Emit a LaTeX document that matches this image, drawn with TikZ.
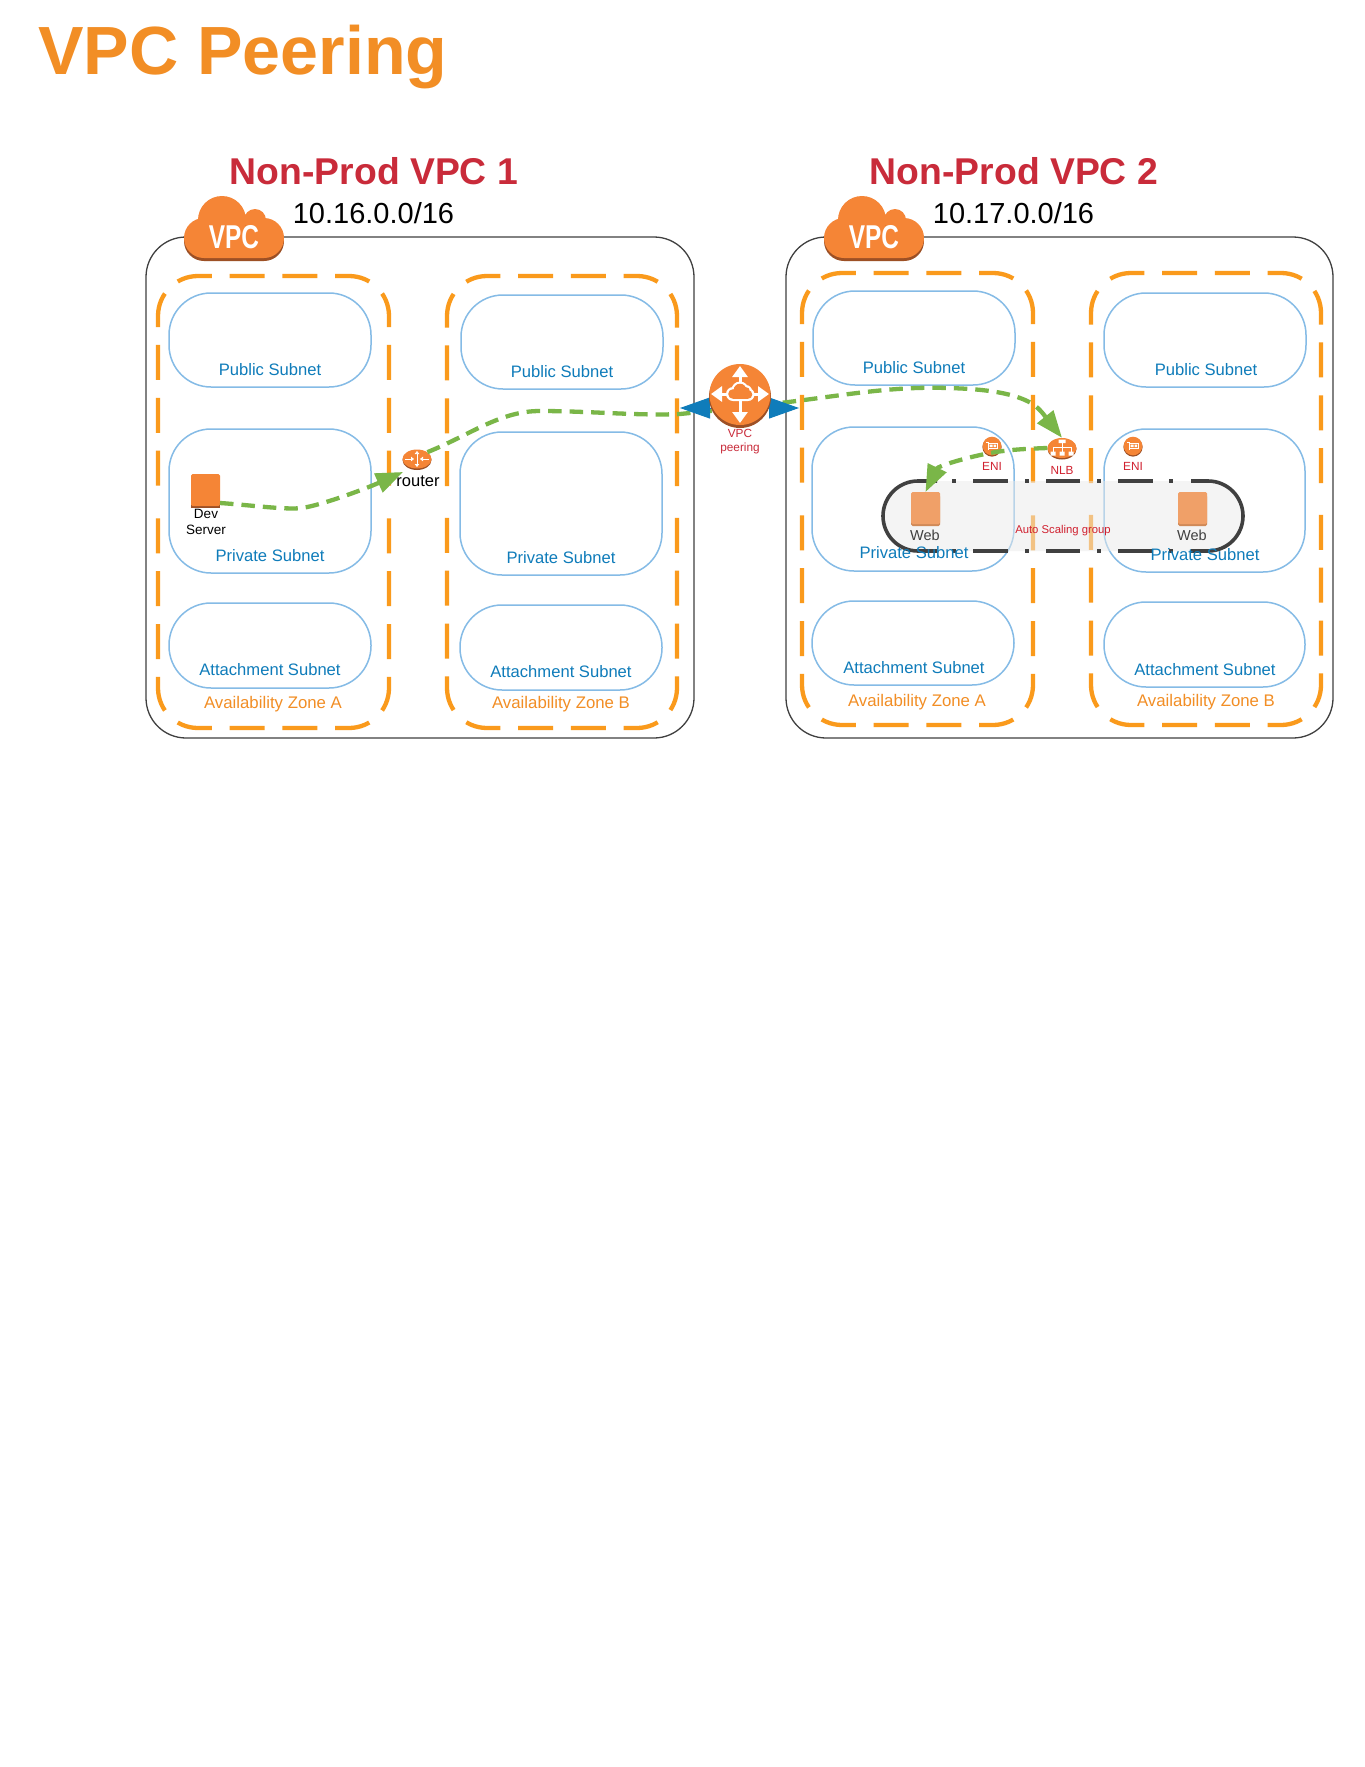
\documentclass[tikz,border=0pt]{standalone}
\usepackage{fontspec}
\usepackage{graphicx}
\setmainfont{Liberation Sans}
\usetikzlibrary{arrows.meta,shapes.geometric}
\definecolor{awsorange}{HTML}{F58536}
\definecolor{awsrim}{HTML}{9D5025}
\definecolor{titleorange}{HTML}{F28E25}
\definecolor{azorange}{HTML}{FA9A1C}
\definecolor{vpcred}{HTML}{C92B3A}
\definecolor{labred}{HTML}{D0202F}
\definecolor{subblue}{HTML}{0F7CBA}
\definecolor{subline}{HTML}{85BBE6}
\definecolor{greenflow}{HTML}{7AB648}
\definecolor{dark}{HTML}{404040}
\definecolor{webfill}{HTML}{F0A068}
\definecolor{webrim}{HTML}{D08A58}
\newcommand\fsz[1]{\fontsize{#1}{#1}\selectfont}
\tikzset{
  vpcbox/.style={draw=dark,line width=1.3pt,rounded corners=40pt,inner sep=0,outer sep=0},
  subnetbox/.style={draw=subline,line width=1.5pt,rounded corners=42pt,inner sep=0,outer sep=0},
  azline/.style={draw=azorange,line width=4.3pt,rounded corners=40pt,dash pattern=on 35pt off 17.8pt,dash phase=43.9pt},
  sublab/.style={text=subblue,font=\fsz{16.6},anchor=base,inner sep=0},
  azlab/.style={text=titleorange,font=\fsz{16.8},anchor=base,inner sep=0},
  redlab/.style={text=labred,font=\fsz{11.8},anchor=base,inner sep=0},
  blk/.style={text=black,anchor=base,inner sep=0},
  vpctitle/.style={text=vpcred,font=\bfseries\fsz{37.3},anchor=base,inner sep=0},
  flow/.style={draw=greenflow,line width=4.3pt,dash pattern=on 13.5pt off 8pt,-{Triangle[length=27pt,width=20pt]}},
  flowplain/.style={draw=greenflow,line width=4.3pt,dash pattern=on 13.5pt off 8pt},
  peerlink/.style={draw=subblue,line width=1pt,{Triangle[length=30pt,width=21pt]}-{Triangle[length=30pt,width=21pt]}},
  whitearrow/.style={draw=white,line width=3pt,-{Triangle[length=11pt,width=15pt]}},
  whitetiny/.style={draw=white,line width=1pt,-{Triangle[length=3pt,width=4.5pt]}},
  square/.style={inner sep=0,outer sep=0,minimum width=29pt,minimum height=32pt,rounded corners=1.5pt}
}
\newcommand\rbox[6]{%
  \pgfmathsetmacro\cxx{(#3+#5)/2}\pgfmathsetmacro\cyy{(#4+#6)/2}%
  \pgfmathsetmacro\wdd{#5-#3}\pgfmathsetmacro\htt{#6-#4}%
  \node[#2,minimum width=\wdd pt,minimum height=\htt pt] (#1) at (\cxx,\cyy) {};}
\newcommand\azbox[4]{%
  \pgfmathsetmacro\cxx{(#1+#3)/2}\pgfmathsetmacro\cyy{(#2+#4)/2}%
  \draw[azline] (\cxx,#2) -- (#3,#2) -- (#3,\cyy);
  \draw[azline] (\cxx,#2) -- (#1,#2) -- (#1,\cyy);
  \draw[azline] (\cxx,#4) -- (#3,#4) -- (#3,\cyy);
  \draw[azline] (\cxx,#4) -- (#1,#4) -- (#1,\cyy);}
\newcommand\cloudshape[1]{%
  \fill[#1] (20,42) circle[radius=20pt] (80,42) circle[radius=20pt]
     (38,24) circle[radius=24pt] (71,24) circle[radius=11pt]
     (20,30) rectangle (80,62);}
\newcommand\vpccloud[3]{%
  \begin{scope}[shift={(#2,#3)}]
    \begin{scope}[shift={(0,3)}]\cloudshape{awsrim}\end{scope}
    \cloudshape{awsorange}
    \node[text=white,font=\bfseries\fsz{33},inner sep=0] (#1) at (50,41) {\scalebox{.74}[1]{VPC}};
  \end{scope}}
\newcommand\enimark[2]{%
  \begin{scope}[shift={(#2)}]
    \fill[awsrim] (0,1) circle[radius=9.6pt];
    \node[circle,fill=awsorange,inner sep=0,minimum size=18.6pt] (#1) at (0,0) {};
    \draw[white,line width=.9pt] (-6,-3.5) -- (-4,-3.5) -- (-4,4) (-4,-3) rectangle (5.5,2.5);
    \fill[white] (-2.5,-1.5) rectangle (0.5,1) (1.5,-1.5) rectangle (4,1);
  \end{scope}}
\begin{document}
\begin{tikzpicture}[x=1pt,y=-1pt]
\useasboundingbox (0,0) rectangle (1365,1767);
\fill[white] (0,0) rectangle (1365,1767);

\node[text=titleorange,font=\bfseries\fsz{68.2},anchor=base west,inner sep=0] (maintitle) at (38,74) {VPC Peering};

% VPC containers
\rbox{vpcA}{vpcbox}{146}{237}{694}{738}
\rbox{vpcB}{vpcbox}{786}{237}{1333}{738}
\vpccloud{cloudA}{184}{196}
\vpccloud{cloudB}{824}{196}
\node[vpctitle] (titleA) at (374,184) {Non-Prod VPC 1};
\node[vpctitle] (titleB) at (1014,184) {Non-Prod VPC 2};
\node[blk,font=\fsz{29}] (cidrA) at (373.5,223) {10.16.0.0/16};
\node[blk,font=\fsz{29}] (cidrB) at (1013.5,223) {10.17.0.0/16};

% availability zones
\azbox{158}{276}{389}{728}
\azbox{447}{276}{677}{728}
\azbox{802}{273}{1033}{725}
\azbox{1091}{273}{1321}{725}
\node[azlab] (azAA) at (273,708) {Availability Zone A};
\node[azlab] (azAB) at (561,708) {Availability Zone B};
\node[azlab] (azBA) at (917,706) {Availability Zone A};
\node[azlab] (azBB) at (1206,706) {Availability Zone B};

% subnets
\rbox{pubAA}{subnetbox}{169}{293}{371}{387}
\rbox{priAA}{subnetbox}{169}{429}{371}{573}
\rbox{attAA}{subnetbox}{169}{603}{371}{688}
\rbox{pubAB}{subnetbox}{461}{295}{663}{389}
\rbox{priAB}{subnetbox}{460}{432}{662}{575}
\rbox{attAB}{subnetbox}{460}{605}{662}{690}
\rbox{pubBA}{subnetbox}{813}{291}{1015}{385}
\rbox{priBA}{subnetbox}{812}{427}{1014}{571}
\rbox{attBA}{subnetbox}{812}{601}{1014}{685}
\rbox{pubBB}{subnetbox}{1104}{293}{1306}{387}
\rbox{priBB}{subnetbox}{1104}{429}{1305}{572}
\rbox{attBB}{subnetbox}{1104}{602}{1305}{687}

% auto scaling group
\fill[fill=black!8,fill opacity=.5] (918,481) -- (1208,481) arc[start angle=90,end angle=-90,radius=35pt] -- (918,551) arc[start angle=-90,end angle=-270,radius=35pt] -- cycle;
\draw[dark,line width=3.6pt] (937,481) -- (918,481) arc[start angle=90,end angle=270,radius=35pt] -- (937,551);
\draw[dark,line width=3.6pt] (1191,481) -- (1208,481) arc[start angle=90,end angle=-90,radius=35pt] -- (1191,551);
\foreach \yy in {481,551}{
  \foreach \aa/\bb in {973/1008,1046/1080,1118/1153,952/956,1025/1029,1097/1101,1169/1173}{
    \draw[dark,line width=3.6pt] (\aa,\yy) -- (\bb,\yy);
  }
}

% subnet labels
\node[sublab] (lpubAA) at (270,375) {Public Subnet};
\node[sublab] (lpriAA) at (270,561) {Private Subnet};
\node[sublab] (lattAA) at (270,675) {Attachment Subnet};
\node[sublab] (lpubAB) at (562,377) {Public Subnet};
\node[sublab] (lpriAB) at (561,563) {Private Subnet};
\node[sublab] (lattAB) at (561,677) {Attachment Subnet};
\node[sublab] (lpubBA) at (914,373) {Public Subnet};
\node[sublab] (lpriBA) at (914,558) {Private Subnet};
\node[sublab] (lattBA) at (914,673) {Attachment Subnet};
\node[sublab] (lpubBB) at (1206,375) {Public Subnet};
\node[sublab] (lpriBB) at (1205,560) {Private Subnet};
\node[sublab] (lattBB) at (1205,675) {Attachment Subnet};

% dev server
\fill[awsrim] (191,476) rectangle (220,508);
\node[square,fill=awsorange,minimum height=32pt] (dev) at (205.5,490) {};
\node[blk,font=\fsz{13.5}] (ldev1) at (206,518) {Dev};
\node[blk,font=\fsz{13.5}] (ldev2) at (206,534) {Server};
\coordinate (devout) at (220,503);

% web servers
\fill[webrim,rounded corners=1.5pt] (911,495) rectangle (940,526);
\fill[webrim,rounded corners=1.5pt] (1178,495) rectangle (1207,526);
\node[square,fill=webfill] (webL) at (925.5,508) {};
\node[square,fill=webfill] (webR) at (1192.5,508) {};
\node[blk,text=dark,font=\fsz{14.5}] (lwebL) at (925,540) {Web};
\node[blk,text=dark,font=\fsz{14.5}] (lwebR) at (1192,540) {Web};
\node[redlab,font=\fsz{11.3}] (asg) at (1063,533) {Auto Scaling group};

% router
\fill[awsrim] (417,460) ellipse[x radius=14.5pt,y radius=10pt];
\node[ellipse,fill=awsorange,inner sep=0,minimum width=29pt,minimum height=19pt] (router) at (417,459) {};
\draw[whitetiny,{Triangle[length=3pt,width=4.5pt]}-{Triangle[length=3pt,width=4.5pt]}] (417,451) -- (417,467);
\draw[whitetiny] (405,459) -- (414,459);
\draw[whitetiny] (429,459) -- (420,459);
\node[blk,font=\fsz{16.5}] (lrouter) at (418,486) {router};
\coordinate (routerin) at (403,472);

% ENI
\enimark{eniL}{992,446}
\enimark{eniR}{1133,446}
\node[redlab] (leniL) at (992,470) {ENI};
\node[redlab] (leniR) at (1133,470) {ENI};

% NLB
\fill[awsrim] (1062,449) ellipse[x radius=14.5pt,y radius=10.5pt];
\node[ellipse,fill=awsorange,inner sep=0,minimum width=29pt,minimum height=20pt] (nlb) at (1062,448) {};
\fill[white] (1058.5,439.5) rectangle (1065.5,443) (1050.5,451.5) rectangle (1055.5,455.5) (1059.5,451.5) rectangle (1064.5,455.5) (1068.5,451.5) rectangle (1073.5,455.5);
\draw[white,line width=.8pt] (1062,443) -- (1062,452) (1053,452) -- (1053,447.5) -- (1071,447.5) -- (1071,452);
\node[redlab] (lnlb) at (1062,474) {NLB};

% flows
\coordinate (peercore) at (740,408);
\draw[flow] (devout) .. controls (250,505) and (285,510) .. (302,508) .. controls (322,505) and (365,489) .. (routerin);
\draw[flowplain] (router.north east) .. controls (470,435) and (500,411) .. (540,411) .. controls (590,411) and (640,416) .. (680,414) -- (peercore);
\draw[flow] (peercore) -- (780,403) .. controls (840,396) and (890,386) .. (947,388) .. controls (990,389) and (1015,394) .. (1031,403) .. controls (1040,408) and (1047,419) .. (nlb.north);
\draw[flow] (nlb.west) .. controls (1020,449) and (1005,450) .. (985,454) .. controls (965,458) and (938,466) .. (webL.north);

% peering
\coordinate (peerL) at (680,408);
\coordinate (peerR) at (799,408);
\draw[peerlink] (peerL) -- (peerR);
\fill[awsrim] (740,397) circle[radius=31pt];
\node[circle,fill=awsorange,inner sep=0,minimum size=61pt] (peer) at (740,394.5) {};
\draw[whitearrow] (740,385) -- (740,366);
\draw[whitearrow] (740,400) -- (740,423);
\draw[whitearrow] (730,394) -- (711,394);
\draw[whitearrow] (750,394) -- (769,394);
\fill[white] (733,394) circle[radius=7pt] (748,394.5) circle[radius=6.5pt] (740,390) circle[radius=8.5pt] (746,391) circle[radius=6pt] (733,392) rectangle (748,401);
\fill[awsorange] (733,394) circle[radius=4.8pt] (748,394.5) circle[radius=4.3pt] (740,390) circle[radius=6.3pt] (746,391) circle[radius=3.8pt] (733,392) rectangle (748,398.8);
\node[redlab,text=vpcred] (lpeer1) at (740,437) {VPC};
\node[redlab,text=vpcred] (lpeer2) at (740,451) {peering};
\end{tikzpicture}
\end{document}
